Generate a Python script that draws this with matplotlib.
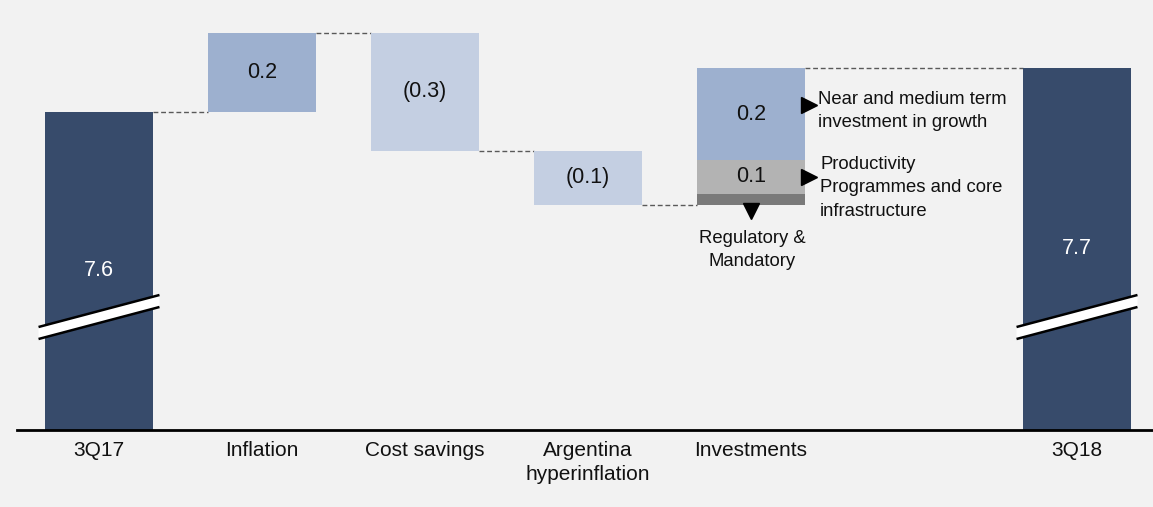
import matplotlib
matplotlib.use("Agg")
import matplotlib.pyplot as plt
from matplotlib.patches import Polygon

plt.rcParams['font.family'] = ['Liberation Sans', 'DejaVu Sans']

# ---- data ----
categories = ["3Q17", "Inflation", "Cost savings", "Argentina\nhyperinflation", "Investments", "3Q18"]
positions = [0, 1, 2, 3, 4, 6]
start_value = 7.6
end_value = 7.71
deltas = [0.1975, -0.295, -0.135]          # Inflation, Cost savings, Argentina
delta_labels = ["0.2", "(0.3)", "(0.1)"]
invest_parts = [0.0275, 0.085, 0.23]        # Regulatory, Productivity, Growth
invest_labels = ["", "0.1", "0.2"]
invest_notes = ["Regulatory &\nMandatory",
                "Productivity\nProgrammes and core\ninfrastructure",
                "Near and medium term\ninvestment in growth"]
total_labels = ["7.6", "7.7"]

# ---- style ----
bg = "#f2f2f2"
navy = "#374b6b"
mid_blue = "#9db0cf"
light_blue = "#c4cfe2"
invest_colors = ["#7a7a7a", "#b3b3b3", mid_blue]
delta_colors = [mid_blue, light_blue, light_blue]
W = 0.663

fig = plt.figure(figsize=(11.53, 5.07), dpi=100, facecolor=bg)
ax = fig.add_axes([0, 77/507, 1, 430/507], facecolor=bg)
ymax = 7.88
ymin = ymax - 430/400
ax.set_ylim(ymin, ymax)
ax.set_xlim(-99/163, (1153-99)/163)
for s in ax.spines.values():
    s.set_visible(False)
ax.set_yticks([])

# totals
for p, v, lab in zip([positions[0], positions[5]], [start_value, end_value], total_labels):
    ax.bar(p, v - ymin, bottom=ymin, width=W, color=navy, zorder=2)
    ax.text(p, (v + ymin) / 2, lab, color="white", ha="center", va="center", fontsize=15.5, zorder=5)

# deltas
level = start_value
prev_right = positions[0] + W/2
for p, d, lab, c in zip(positions[1:4], deltas, delta_labels, delta_colors):
    ax.plot([prev_right, p - W/2], [level, level], ls=(0, (3.5, 2)), color="#595959", lw=1, zorder=1)
    bottom = min(level, level + d)
    ax.bar(p, abs(d), bottom=bottom, width=W, color=c, zorder=2)
    ax.text(p, bottom + abs(d)/2, lab, ha="center", va="center", fontsize=15.5, color="#111111", zorder=5)
    level = level + d
    prev_right = p + W/2

# investments stacked
p = positions[4]
ax.plot([prev_right, p - W/2], [level, level], ls=(0, (3.5, 2)), color="#595959", lw=1, zorder=1)
base = level
mids = []
for part, lab, c in zip(invest_parts, invest_labels, invest_colors):
    ax.bar(p, part, bottom=base, width=W, color=c, zorder=2)
    mids.append(base + part/2)
    if lab:
        ax.text(p, base + part/2, lab, ha="center", va="center", fontsize=15.5, color="#111111", zorder=5)
    base += part
invest_top = base
ax.plot([p + W/2, positions[5] - W/2], [invest_top, invest_top], ls=(0, (3.5, 2)), color="#595959", lw=1, zorder=1)

# arrows + notes
ax.plot(p + W/2 + 0.025, mids[2] + 0.022, marker=">", color="black", markersize=11, zorder=6)
ax.plot(p + W/2 + 0.025, mids[1], marker=">", color="black", markersize=11, zorder=6)
ax.plot(p, level - 0.016, marker="v", color="black", markersize=11, zorder=6)
ax.text(p + W/2 + 0.08, mids[2] + 0.008, invest_notes[2], ha="left", va="center", fontsize=13.3,
        linespacing=1.45, color="#111111")
ax.text(p + W/2 + 0.092, mids[1] - 0.027, invest_notes[1], ha="left", va="center", fontsize=13.3,
        linespacing=1.5, color="#111111")
ax.text(p + 0.006, level - 0.112, invest_notes[0], ha="center", va="center", fontsize=13.3,
        linespacing=1.45, color="#111111")

# break marks
for p in [positions[0], positions[5]]:
    xl, xr = p - 0.371, p + 0.371
    top = [(xl, 1 - 327/430), (xr, 1 - 295/430)]
    bot = [(xl, 1 - 339/430), (xr, 1 - 307/430)]
    trans = ax.get_xaxis_transform()
    poly = Polygon([top[0], top[1], bot[1], bot[0]], closed=True, facecolor="white",
                   edgecolor="none", transform=trans, zorder=3)
    ax.add_patch(poly)
    for ln in (top, bot):
        ax.plot([ln[0][0], ln[1][0]], [ln[0][1], ln[1][1]], color="black", lw=1.8,
                transform=trans, zorder=4, solid_capstyle="butt")

# baseline
ax.axhline(ymin, xmin=17/1153, xmax=1, color="black", lw=2, zorder=5, clip_on=False)

ax.set_xticks(positions)
ax.set_xticklabels(categories, fontsize=15, color="#111111", linespacing=1.3)
ax.tick_params(axis="x", length=0, pad=8)

fig.savefig("out.png", dpi=100, facecolor=bg)
